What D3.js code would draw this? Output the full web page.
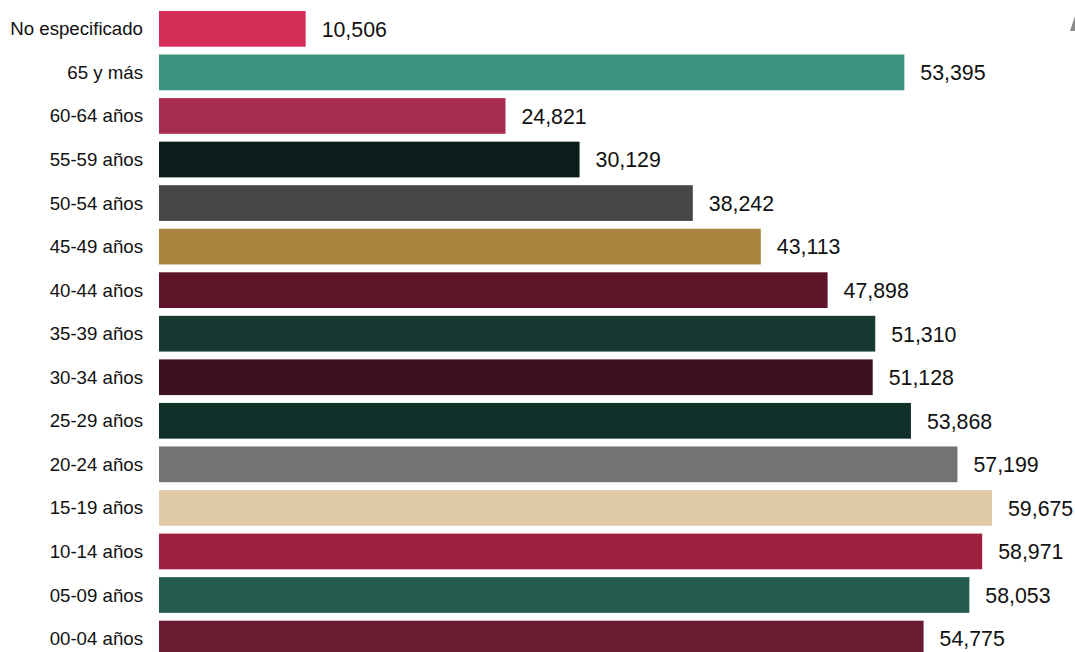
<!DOCTYPE html>
<html>
<head>
<meta charset="utf-8">
<script src="https://cdn.jsdelivr.net/npm/d3@7"></script>
<style>
  html, body { margin: 0; padding: 0; background: #fff; overflow: hidden; }
  svg { display: block; font-family: "Liberation Sans", Arial, sans-serif; }
</style>
</head>
<body>
<div id="chart"></div>
<script>
const width = 1075;
const height = 652;

// data, top to bottom as drawn
const categories = [
    "No especificado", "65 y más", "60-64 años", "55-59 años", "50-54 años",
    "45-49 años", "40-44 años", "35-39 años", "30-34 años", "25-29 años",
    "20-24 años", "15-19 años", "10-14 años", "05-09 años", "00-04 años"
];
const values = [
    10506, 53395, 24821, 30129, 38242,
    43113, 47898, 51310, 51128, 53868,
    57199, 59675, 58971, 58053, 54775
];
const barColors = [
    "#d42d57", "#3a937e", "#a72c4f", "#0b1d1b", "#464646",
    "#a9843f", "#5e1529", "#163a31", "#3f101f", "#10302a",
    "#737373", "#dfcba6", "#9d203f", "#235b4e", "#691c32"
];

const data = categories.map((c, i) => ({ cat: c, value: values[i], color: barColors[i] }));

const svg = d3.select("#chart")
    .append("svg")
    .attr("width", width)
    .attr("height", height);

// scales
const xScale = d3.scaleLinear()
    .domain([0, 59675])
    .range([159, 992]);

const yScale = d3.scaleBand()
    .domain(categories)
    .range([11, 656.4])
    .paddingInner(0.18)
    .paddingOuter(0);

// bars
svg.selectAll("rect.bar")
    .data(data)
    .join("rect")
    .attr("class", "bar")
    .attr("x", xScale(0))
    .attr("y", d => yScale(d.cat))
    .attr("width", d => xScale(d.value) - xScale(0))
    .attr("height", yScale.bandwidth())
    .attr("fill", d => d.color);

// category labels
svg.selectAll("text.cat")
    .data(data)
    .join("text")
    .attr("class", "cat")
    .attr("x", 143)
    .attr("y", d => yScale(d.cat) + yScale.bandwidth() / 2)
    .attr("dy", "0.35em")
    .attr("text-anchor", "end")
    .attr("font-size", "18.67px")
    .attr("fill", "#111")
    .text(d => d.cat);

// value labels
const fmt = d3.format(",");
svg.selectAll("text.val")
    .data(data)
    .join("text")
    .attr("class", "val")
    .attr("x", d => xScale(d.value) + 16)
    .attr("y", d => yScale(d.cat) + yScale.bandwidth() / 2)
    .attr("dy", "0.37em")
    .attr("font-size", "21.33px")
    .attr("fill", "#111")
    .text(d => fmt(d.value));

// clipped icon piece at the top right edge
svg.append("path")
    .attr("d", "M1075,16 L1075,31 L1070,31 Z")
    .attr("fill", "#8a8a8a");
</script>
</body>
</html>
